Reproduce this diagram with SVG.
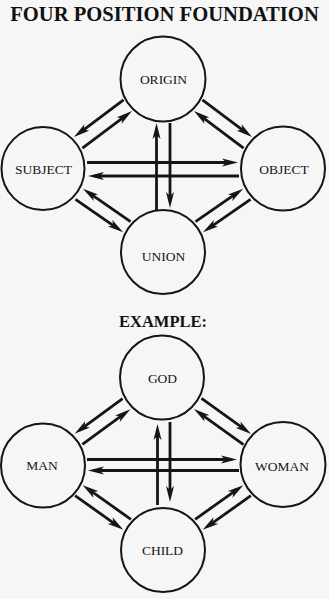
<svg xmlns="http://www.w3.org/2000/svg" width="329" height="599" viewBox="0 0 329 599">
<style>
.bg{fill:#f6f6f6}
.node circle{fill:none;stroke:#151515;stroke-width:2}
.lbl{font-family:"Liberation Serif","Times New Roman",serif;font-size:13.5px;fill:#151515;text-anchor:middle}
.title{font-family:"Liberation Serif","Times New Roman",serif;font-weight:bold;fill:#111;text-anchor:middle}
.conn line{stroke:#151515;stroke-width:2.8;marker-end:url(#ah)}
</style>
<defs>
<marker id="ah" viewBox="0 0 16 9" markerWidth="16" markerHeight="9" refX="9" refY="4.5" orient="auto" markerUnits="userSpaceOnUse">
<path d="M0,0.5 L16,4.5 L0,8.5 L4,4.5 Z" fill="#151515"/>
</marker>
</defs>
<rect class="bg" x="0" y="0" width="329" height="599"/>
<text class="title" x="164.5" y="21" font-size="20.6">FOUR POSITION FOUNDATION</text>
<text class="title" x="163" y="327" font-size="16.5">EXAMPLE:</text>

<g id="connectors-top" class="conn">
<line x1="123.6" y1="99.8" x2="79.6" y2="132.8"/>
<line x1="82.4" y1="148.2" x2="126.4" y2="115.2"/>
<line x1="202.4" y1="99.8" x2="246.4" y2="132.8"/>
<line x1="243.6" y1="148.2" x2="199.6" y2="115.2"/>
<line x1="75.5" y1="199.4" x2="117.4" y2="228.3"/>
<line x1="130.5" y1="221.6" x2="88.7" y2="192.7"/>
<line x1="195.5" y1="221.6" x2="237.4" y2="192.7"/>
<line x1="250.5" y1="199.4" x2="208.7" y2="228.3"/>
<line x1="87" y1="162.5" x2="231" y2="162.5"/>
<line x1="239" y1="176" x2="95" y2="176"/>
<line x1="156.5" y1="210" x2="156.5" y2="130"/>
<line x1="170" y1="123" x2="170" y2="201"/>
</g>

<g id="connectors-bottom" class="conn">
<line x1="122.6" y1="398.7" x2="80.3" y2="429.6"/>
<line x1="82.4" y1="444.3" x2="124.7" y2="413.4"/>
<line x1="201.5" y1="398.4" x2="245.4" y2="429.9"/>
<line x1="243.5" y1="444.6" x2="199.6" y2="413.1"/>
<line x1="75.1" y1="495.7" x2="117.6" y2="525.8"/>
<line x1="130.9" y1="519.3" x2="88.4" y2="489.2"/>
<line x1="195.1" y1="519.3" x2="237.6" y2="489.2"/>
<line x1="250.9" y1="495.7" x2="208.4" y2="525.8"/>
<line x1="87" y1="459.5" x2="230" y2="459.5"/>
<line x1="239" y1="470.5" x2="95" y2="470.5"/>
<line x1="157.5" y1="505" x2="157.5" y2="431"/>
<line x1="170" y1="422" x2="170" y2="495"/>
</g>

<g id="origin" class="node"><circle cx="163" cy="79" r="42.5"/><text class="lbl" x="163.5" y="84">ORIGIN</text></g>
<g id="subject" class="node"><circle cx="43" cy="168.5" r="41.5"/><text class="lbl" x="43.5" y="174">SUBJECT</text></g>
<g id="object" class="node"><circle cx="283" cy="168.5" r="42"/><text class="lbl" x="284" y="173.5">OBJECT</text></g>
<g id="union" class="node"><circle cx="163" cy="252" r="42"/><text class="lbl" x="163.5" y="260.5">UNION</text></g>

<g id="god" class="node"><circle cx="162" cy="377.5" r="42"/><text class="lbl" x="162.5" y="383">GOD</text></g>
<g id="man" class="node"><circle cx="43" cy="465.5" r="42"/><text class="lbl" x="42" y="470">MAN</text></g>
<g id="woman" class="node"><circle cx="283" cy="464.5" r="42.5"/><text class="lbl" x="282" y="471">WOMAN</text></g>
<g id="child" class="node"><circle cx="163" cy="550" r="42"/><text class="lbl" x="162.5" y="555">CHILD</text></g>
</svg>
